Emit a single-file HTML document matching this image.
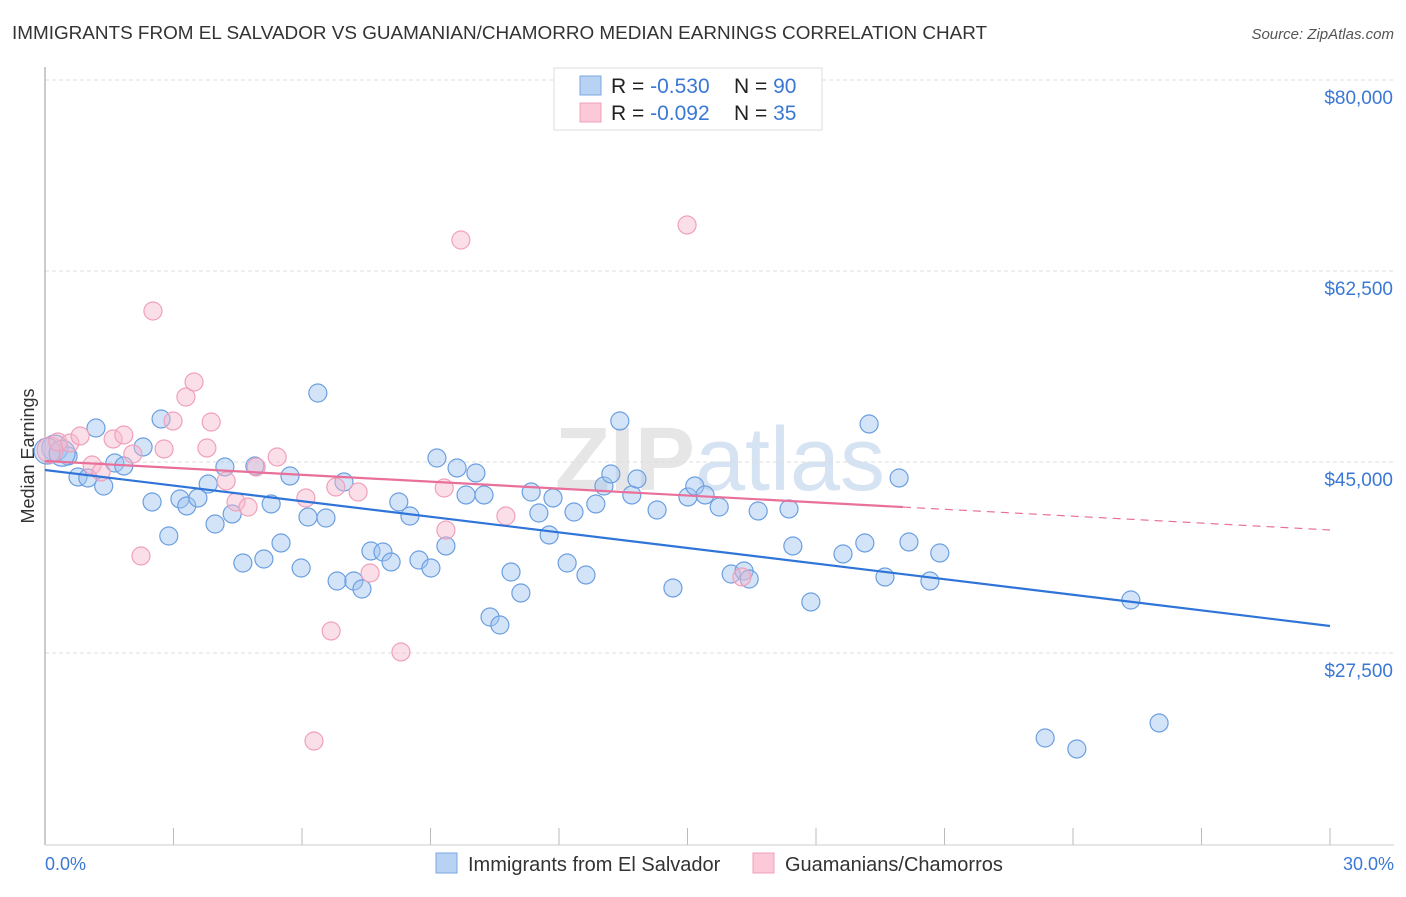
<!DOCTYPE html>
<html><head><meta charset="utf-8"><style>
body{margin:0;background:#fff;font-family:"Liberation Sans",sans-serif;}
svg text{font-family:"Liberation Sans",sans-serif;}
</style></head><body>
<svg id="chart" width="1406" height="892" xmlns="http://www.w3.org/2000/svg">
<text x="12" y="39" font-size="18.9" fill="#333">IMMIGRANTS FROM EL SALVADOR VS GUAMANIAN/CHAMORRO MEDIAN EARNINGS CORRELATION CHART</text>
<text x="1394" y="39" font-size="15" fill="#555" font-style="italic" text-anchor="end">Source: ZipAtlas.com</text>
<text x="720" y="490" font-size="90" fill="#e6e6e6" text-anchor="middle" font-weight="bold">ZIP<tspan fill="#d6e3f3" font-weight="normal">atlas</tspan></text>
<g id="grid"></g>
<line x1="45" y1="67" x2="45" y2="845" stroke="#999"/>
<line x1="45" y1="845" x2="1394" y2="845" stroke="#ccc"/>
<text x="34" y="456" font-size="18" fill="#333" text-anchor="middle" transform="rotate(-90 34 456)">Median Earnings</text>
<text x="45" y="870" font-size="18" fill="#3a78d4">0.0%</text>
<text x="1394" y="870" font-size="18" fill="#3a78d4" text-anchor="end">30.0%</text>
<g id="marks"></g>
<g>
<rect x="554" y="68" width="268" height="62" fill="#fff" stroke="#ddd"/>
<rect x="580" y="76" width="21" height="19" fill="#b8d2f3" stroke="#7aa7e3"/>
<rect x="580" y="103" width="21" height="19" fill="#fbc9d8" stroke="#f0a0bc"/>
<text x="611" y="93" font-size="21" fill="#222">R = <tspan fill="#3a78d4">-0.530</tspan></text>
<text x="734" y="93" font-size="21" fill="#222">N = <tspan fill="#3a78d4">90</tspan></text>
<text x="611" y="120" font-size="21" fill="#222">R = <tspan fill="#3a78d4">-0.092</tspan></text>
<text x="734" y="120" font-size="21" fill="#222">N = <tspan fill="#3a78d4"> 35</tspan></text>
</g>
<g>
<rect x="436" y="853" width="21" height="20" fill="#b8d2f3" stroke="#7aa7e3"/>
<text x="468" y="871" font-size="20" fill="#333">Immigrants from El Salvador</text>
<rect x="753" y="853" width="21" height="20" fill="#fbc9d8" stroke="#f0a0bc"/>
<text x="785" y="871" font-size="20" fill="#333">Guamanians/Chamorros</text>
</g>
</svg>
<script>
const yTicks=[80000,62500,45000,27500];
const yTickLabels=["$80,000","$62,500","$45,000","$27,500"];
const xTicks=[0,3,6,9,12,15,18,21,24,27,30];
const blueX=[0.23,0.54,0.77,1.00,1.19,1.37,1.63,1.84,2.29,2.50,2.71,2.89,3.15,3.31,3.57,3.81,3.97,4.20,4.37,4.62,4.90,5.11,5.28,5.51,5.72,5.98,6.14,6.37,6.56,6.82,6.98,7.21,7.40,7.61,7.89,8.08,8.26,8.52,8.73,9.01,9.15,9.36,9.62,9.83,10.06,10.25,10.39,10.62,10.88,11.11,11.35,11.53,11.77,11.86,12.19,12.35,12.63,12.86,13.05,13.21,13.42,13.70,13.82,14.29,14.66,15.01,15.17,15.41,15.74,16.02,16.32,16.44,16.65,17.37,17.46,17.88,18.63,19.14,19.24,19.61,19.94,20.17,20.66,20.89,23.35,24.09,25.35,26.01,0.05,0.40];
const blueY=[46283,45550,43626,43535,48115,42801,44908,44634,46375,41337,48940,38220,41612,40971,41704,42984,39319,44543,40236,35746,44634,36112,41154,37579,43718,35288,39960,51322,39869,34097,43168,34097,33364,36846,36754,35838,41337,40052,36021,35288,45366,37304,44451,41978,43993,41978,30798,30065,34921,32998,42251,40327,38312,41704,35746,40419,34647,41154,42801,43901,48757,41978,43443,40602,33456,41795,42801,41978,40877,34738,35013,34280,40511,40694,37304,32173,36571,37579,48482,34464,43535,37671,34097,36663,19712,18705,32356,21087,46000,45800];
const pinkX=[0.12,0.30,0.58,0.82,1.10,1.31,1.59,1.84,2.05,2.24,2.52,2.78,2.99,3.29,3.48,3.78,3.88,4.23,4.46,4.74,4.93,5.42,6.09,6.28,6.68,6.79,7.31,7.59,8.31,9.32,9.36,9.71,10.76,14.99,16.27];
const pinkY=[46100,46833,46742,47384,44725,44084,47109,47476,45733,36388,58835,46192,48757,50955,52330,46283,48665,43260,41337,40877,44543,45458,41704,19437,29516,42709,42251,34830,27592,42618,38762,65340,40052,66715,34464];
const blueTrend=[44267,29975];
const pinkTrend=[45092,38770];
const pinkSolidEnd=20.03;
const X=p=>45+p*1285/30, Y=v=>80+(80000-v)*191/17500;
const NS="http://www.w3.org/2000/svg";
const grid=document.getElementById('grid'),marks=document.getElementById('marks');
function mk(tag,attrs,parent){const e=document.createElementNS(NS,tag);for(const k in attrs)e.setAttribute(k,attrs[k]);parent.appendChild(e);return e;}
yTicks.forEach((v,i)=>{
 const l=mk('line',{x1:45,x2:1394,y1:Y(v),y2:Y(v),stroke:'#ddd','stroke-dasharray':'4,3'},grid);
 
 
 const t=mk('text',{x:1393,y:Y(v)+24,'font-size':19,fill:'#3a78d4','text-anchor':'end'},grid);
 t.textContent=yTickLabels[i];
 
 
});
xTicks.forEach(p=>{
 const l=mk('line',{x1:X(p),x2:X(p),y1:828,y2:845,stroke:'#bbb'},grid);
 
 
});
function dots(xs,ys,fill,stroke,name){
 xs.forEach((x,i)=>{
  const big=i===0||(name==='blue-point'&&i>=xs.length-2);
  const c=mk('circle',{cx:X(x),cy:Y(ys[i]),r:big?13:9,fill:fill,stroke:stroke,'stroke-width':1.2},marks);
  
  
 });
}
dots(blueX,blueY,'rgba(160,195,240,0.45)','#6b9fe0','blue-point');
dots(pinkX,pinkY,'rgba(247,185,205,0.45)','#f0a0bc','pink-point');
const bl=mk('line',{x1:X(0),y1:Y(blueTrend[0]),x2:X(30),y2:Y(blueTrend[1]),stroke:'#2f74d8','stroke-width':2.2},marks);


const pm=pinkTrend[0]+(pinkTrend[1]-pinkTrend[0])*pinkSolidEnd/30;
const pl=mk('line',{x1:X(0),y1:Y(pinkTrend[0]),x2:X(pinkSolidEnd),y2:Y(pm),stroke:'#e8709a','stroke-width':2.2},marks);


const pd=mk('line',{x1:X(pinkSolidEnd),y1:Y(pm),x2:X(30),y2:Y(pinkTrend[1]),stroke:'#e8709a','stroke-width':1.2,'stroke-dasharray':'8,6'},marks);


</script>
</body></html>
